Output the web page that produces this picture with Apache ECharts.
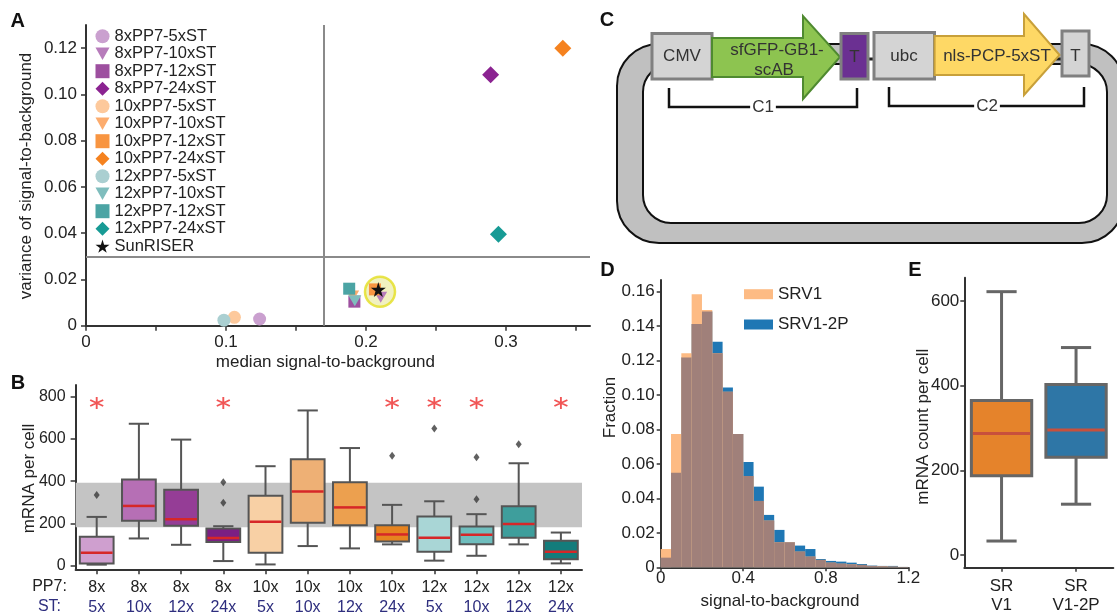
<!DOCTYPE html>
<html>
<head>
<meta charset="utf-8">
<title>SunRISER figure</title>
<script src="https://cdn.jsdelivr.net/npm/echarts@6/dist/echarts.min.js"></script>
<style>
  html, body { margin: 0; padding: 0; background: #fff; }
  #chart { width: 1117px; height: 615px; }
</style>
</head>
<body>
<div id="chart"></div>
<script>
// ---- A: median vs variance of signal-to-background
const aNames = ['8xPP7-5xST', '8xPP7-10xST', '8xPP7-12xST', '8xPP7-24xST',
  '10xPP7-5xST', '10xPP7-10xST', '10xPP7-12xST', '10xPP7-24xST',
  '12xPP7-5xST', '12xPP7-10xST', '12xPP7-12xST', '12xPP7-24xST', 'SunRISER'];
const aMedian = [0.124, 0.2105, 0.1917, 0.289, 0.106, 0.1905, 0.2064, 0.3406, 0.0985, 0.192, 0.188, 0.2946, 0.2088];
const aVariance = [0.0029, 0.0123, 0.0104, 0.1085, 0.0036, 0.0128, 0.0157, 0.120, 0.0024, 0.0108, 0.016, 0.0395, 0.0157];
const aHighlight = [0.21, 0.0147];
const aCutX = 0.165;
const aCutY = 0.0276;
const aXLabels = [0, 0.1, 0.2, 0.3];
const aXTicks = [0, 0.05, 0.1, 0.15, 0.2, 0.25, 0.3, 0.35];
const aYLabels = [0, 0.02, 0.04, 0.06, 0.08, 0.1, 0.12];

// ---- B: mRNA per cell box plots
const bPP7 = ['8x', '8x', '8x', '8x', '10x', '10x', '10x', '10x', '12x', '12x', '12x', '12x'];
const bST = ['5x', '10x', '12x', '24x', '5x', '10x', '12x', '24x', '5x', '10x', '12x', '24x'];
const bMin = [5, 129, 99, 22, 6, 93, 82, 101, 24, 47, 101, 11];
const bQ1 = [11, 213, 189, 112, 61, 203, 192, 115, 66, 102, 132, 30];
const bMed = [61, 283, 220, 131, 208, 351, 276, 148, 132, 146, 197, 66];
const bQ3 = [137, 408, 360, 176, 331, 504, 395, 192, 233, 186, 282, 118];
const bMax = [231, 672, 597, 187, 471, 735, 557, 288, 305, 244, 485, 157];
const bOutliers = [[0, 335], [3, 395], [3, 298], [7, 520], [8, 649], [9, 513], [9, 315], [10, 575]];
const bStarred = [0, 3, 7, 8, 9, 11];
const bStarLevel = 770;
const bBand = [182, 393];
const bYLabels = [0, 200, 400, 600, 800];

// ---- D: histogram of signal-to-background
const dBinWidth = 0.05;
const dSRV1 = [0.0106, 0.0774, 0.1242, 0.1584, 0.1493, 0.1242, 0.1019, 0.0774, 0.0530, 0.0385, 0.0271, 0.0145,
  0.0145, 0.0091, 0.0062, 0.0043, 0.0027, 0.0021, 0.0017, 0.0014, 0.0008, 0.0006, 0.0004, 0.0002];
const dSRV12P = [0.0056, 0.0549, 0.1217, 0.1412, 0.1484, 0.1308, 0.1043, 0.0774, 0.0611, 0.0468, 0.0304, 0.0217,
  0.0145, 0.0126, 0.0106, 0.0048, 0.0037, 0.0033, 0.0027, 0.0019, 0.0010, 0.0008, 0.0008, 0.0002];
const dXLabels = [0, 0.4, 0.8, 1.2];
const dYLabels = [0, 0.02, 0.04, 0.06, 0.08, 0.1, 0.12, 0.14, 0.16];

// ---- E: mRNA count per cell
const eCats = ['SR\nV1', 'SR\nV1-2P'];
const eMin = [33, 120];
const eQ1 = [187, 231];
const eMed = [287, 295];
const eQ3 = [365, 403];
const eMax = [622, 490];
const eYLabels = [0, 200, 400, 600];

const FONT = 'Liberation Sans, Arial, Helvetica, sans-serif';
const TXT = '#222';

// styles for A
const TRI = 'path://M0,0L10,0L5,9Z';
const STAR = 'path://M50,0L61,35L98,35L68,57L79,91L50,70L21,91L32,57L2,35L39,35Z';
const aSymbols = ['circle', TRI, 'rect', 'diamond', 'circle', TRI, 'rect', 'diamond', 'circle', TRI, 'rect', 'diamond', STAR];
const aSizes = [13, [13, 11], 12, 17, 13, [13, 11], 12, 17, 13, [13, 11], 12, 17, 15];
const aColors = ['#caa0cf', '#b77cbb', '#9d4f9f', '#8b2391', '#fdc99c', '#fcac6e', '#f89541', '#f5821f',
  '#aacfd1', '#7fbdbd', '#4ba4a4', '#179b95', '#111'];

const bColors = ['#cf9fcf', '#b66fb5', '#953d96', '#7b1f83', '#f8d0a5', '#eeb075', '#eca04f', '#e6831f',
  '#a9d6d6', '#6fbebe', '#3e9e9c', '#137c7b'];
const eColors = ['#e5832b', '#2e76a6'];

const axisLine = { show: true, onZero: false, lineStyle: { color: '#333', width: 2 } };
const tick = (len, values) => ({ show: true, length: len, customValues: values, lineStyle: { color: '#333', width: 1.5 } });
const label = (values, margin, fmt, size) => ({
  customValues: values, margin: margin, formatter: fmt,
  fontSize: size || 17, color: TXT, fontFamily: FONT
});
const decFmt = v => (v === 0 ? '0' : v.toFixed(2));
const plainFmt = v => String(v);

// box + whiskers + median drawn from the axis scales
function boxItem(colors, o) {
  return function (params, api) {
    const i = api.value(0);
    const cx = api.coord([i, 0])[0];
    const w = api.size([1, 0])[0] * o.box;
    const cap = w * o.cap;
    const y = k => api.coord([i, api.value(k)])[1];
    const yMin = y(1), yQ1 = y(2), yMed = y(3), yQ3 = y(4), yMax = y(5);
    const ln = (x1, y1, x2, y2, stroke, lw) => ({
      type: 'line', shape: { x1: x1, y1: y1, x2: x2, y2: y2 }, style: { stroke: stroke, lineWidth: lw }
    });
    return {
      type: 'group',
      children: [
        ln(cx, yQ1, cx, yMin, o.edge, o.lw),
        ln(cx, yQ3, cx, yMax, o.edge, o.lw),
        ln(cx - cap / 2, yMin, cx + cap / 2, yMin, o.edge, o.lw),
        ln(cx - cap / 2, yMax, cx + cap / 2, yMax, o.edge, o.lw),
        { type: 'rect', shape: { x: cx - w / 2, y: yQ3, width: w, height: yQ1 - yQ3 },
          style: { fill: colors[i], stroke: o.edge, lineWidth: o.lw } },
        ln(cx - w / 2 + o.lw / 2, yMed, cx + w / 2 - o.lw / 2, yMed, o.med, o.medW)
      ]
    };
  };
}

// ---- scatter series for A
const aSeries = aNames.map((name, i) => ({
  type: 'scatter', name: name, xAxisIndex: 0, yAxisIndex: 0,
  symbol: aSymbols[i], symbolSize: aSizes[i],
  itemStyle: { color: aColors[i], opacity: 1 },
  data: [[aMedian[i], aVariance[i]]], z: 3
}));

// ---- diagram C
const T = (x, y, text, extra) => ({
  type: 'text', x: x, y: y, z: 10,
  style: Object.assign({ text: text, fill: '#333', fontSize: 17, fontFamily: FONT, align: 'center', verticalAlign: 'middle' }, extra || {})
});
const grayBox = (x, y, w, h, fill) => ({
  type: 'rect', z: 8, shape: { x: x, y: y, width: w, height: h },
  style: { fill: fill, stroke: '#808080', lineWidth: 3 }
});
const diagram = [
  { type: 'rect', z: 5, shape: { x: 617, y: 44, width: 507, height: 199, r: 42 }, style: { fill: '#c0c0c0', stroke: '#111', lineWidth: 2 } },
  { type: 'rect', z: 6, shape: { x: 643, y: 64, width: 464, height: 159, r: 28 }, style: { fill: '#fff', stroke: '#111', lineWidth: 2 } },
  { type: 'rect', z: 7, shape: { x: 866, y: 30, width: 9, height: 50 }, style: { fill: '#fff' } },
  { type: 'line', z: 7, shape: { x1: 866, y1: 59, x2: 876, y2: 59 }, style: { stroke: '#222', lineWidth: 3 } },
  { type: 'line', z: 7, shape: { x1: 1055, y1: 59, x2: 1064, y2: 59 }, style: { stroke: '#222', lineWidth: 3 } },
  grayBox(652, 33.5, 60, 45.5, '#d4d4d4'),
  T(682, 56, 'CMV'),
  { type: 'polygon', z: 8, shape: { points: [[712, 38], [803, 38], [803, 16], [840, 57], [803, 99], [803, 77], [712, 77]] },
    style: { fill: '#8dc450', stroke: '#4f8a30', lineWidth: 2 } },
  T(777, 50, 'sfGFP-GB1-'),
  T(774, 70, 'scAB'),
  grayBox(841, 33.5, 27, 45.5, '#6b3092'),
  T(854.5, 57, 'T'),
  grayBox(874, 32.5, 60.5, 46.5, '#d4d4d4'),
  T(904, 56, 'ubc'),
  { type: 'polygon', z: 8, shape: { points: [[934.6, 36], [1024, 36], [1024, 14], [1059.6, 55], [1024, 95], [1024, 75], [934.6, 75]] },
    style: { fill: '#fed865', stroke: '#c8a03a', lineWidth: 2 } },
  T(997, 56, 'nls-PCP-5xST'),
  grayBox(1062, 31, 27, 45, '#d4d4d4'),
  T(1075.5, 56, 'T'),
  { type: 'polyline', z: 8, shape: { points: [[669, 88], [669, 107], [857, 107], [857, 88]] }, style: { stroke: '#111', lineWidth: 2.5, fill: null } },
  T(763, 107, 'C1', { backgroundColor: '#fff', padding: [0, 2] }),
  { type: 'polyline', z: 8, shape: { points: [[889, 87], [889, 106], [1084, 106], [1084, 87]] }, style: { stroke: '#111', lineWidth: 2.5, fill: null } },
  T(987, 106, 'C2', { backgroundColor: '#fff', padding: [0, 2] })
];

const letter = (x, y, s) => T(x, y, s, { fontSize: 20, fontWeight: 'bold', fill: '#111' });
const vTitle = (x, y, s) => Object.assign(T(x, y, s, { fill: TXT }), { rotation: Math.PI / 2 });

const texts = [
  letter(17.6, 21.7, 'A'), letter(18, 383.3, 'B'), letter(607, 20, 'C'), letter(607.5, 270.5, 'D'), letter(915, 270, 'E'),
  vTitle(26, 176, 'variance of signal-to-background'),
  T(325.4, 362, 'median signal-to-background', { fill: TXT }),
  vTitle(29.5, 478.5, 'mRNA per cell'),
  T(49.5, 586.7, 'PP7:', { fill: TXT, fontSize: 16 }),
  T(49.5, 607, 'ST:', { fill: '#2e2e7e', fontSize: 16 }),
  vTitle(610.7, 407.5, 'Fraction'),
  T(780, 601.7, 'signal-to-background', { fill: TXT }),
  vTitle(923.3, 426.7, 'mRNA count per cell')
];

const option = {
  animation: false,
  backgroundColor: '#fff',
  textStyle: { fontFamily: FONT },
  grid: [
    { left: 86, top: 25, width: 504, height: 300.7, outerBoundsMode: 'none' },
    { left: 75.6, top: 385.1, width: 506.4, height: 184.2, outerBoundsMode: 'none' },
    { left: 660.7, top: 280, width: 247.6, height: 287.3, outerBoundsMode: 'none' },
    { left: 964.3, top: 277.7, width: 149, height: 290, outerBoundsMode: 'none' }
  ],
  legend: [
    {
      orient: 'vertical', left: 95.5, top: 27.7, padding: 0,
      itemWidth: 14, itemHeight: 14, itemGap: 0.5, selectedMode: false,
      data: aNames,
      textStyle: { fontSize: 16.5, color: TXT, fontFamily: FONT, lineHeight: 14 }
    },
    {
      orient: 'vertical', left: 744, top: 285.7, padding: 0,
      itemWidth: 29, itemHeight: 10, itemGap: 13.3, selectedMode: false, icon: 'rect',
      data: ['SRV1', 'SRV1-2P'],
      textStyle: { fontSize: 17, color: TXT, fontFamily: FONT, lineHeight: 10 }
    }
  ],
  xAxis: [
    { gridIndex: 0, type: 'value', min: 0, max: 0.36, axisLine: axisLine, splitLine: { show: false },
      axisTick: tick(5, aXTicks), axisLabel: label(aXLabels, 8, plainFmt) },
    { gridIndex: 1, type: 'category', data: bPP7.map((p, i) => p + '/' + bST[i]), boundaryGap: true,
      axisLine: axisLine, splitLine: { show: false },
      axisTick: { show: true, alignWithLabel: true, length: 5, lineStyle: { color: '#333', width: 1.5 } },
      axisLabel: {
        interval: 0, margin: 8,
        formatter: (v, i) => '{p|' + bPP7[i] + '}\n{s|' + bST[i] + '}',
        rich: {
          p: { color: TXT, fontSize: 16, lineHeight: 20, fontFamily: FONT },
          s: { color: '#2e2e7e', fontSize: 16, lineHeight: 20, fontFamily: FONT }
        }
      } },
    { gridIndex: 2, type: 'value', min: 0, max: 1.2, axisLine: axisLine, splitLine: { show: false },
      axisTick: tick(4, dXLabels), axisLabel: label(dXLabels, 3, plainFmt) },
    { gridIndex: 3, type: 'category', data: eCats, boundaryGap: true, axisLine: axisLine, splitLine: { show: false },
      axisTick: { show: true, alignWithLabel: true, length: 4, lineStyle: { color: '#333', width: 1.5 } },
      axisLabel: { interval: 0, margin: 9, fontSize: 17, lineHeight: 19, color: TXT, fontFamily: FONT } }
  ],
  yAxis: [
    { gridIndex: 0, type: 'value', min: 0, max: 0.13, axisLine: axisLine, splitLine: { show: false },
      axisTick: tick(5, aYLabels), axisLabel: label(aYLabels, 9, decFmt) },
    { gridIndex: 1, type: 'value', min: -17, max: 855, axisLine: axisLine, splitLine: { show: false },
      axisTick: tick(5, bYLabels), axisLabel: label(bYLabels, 10, plainFmt, 16) },
    { gridIndex: 2, type: 'value', min: 0, max: 0.1667, axisLine: axisLine, splitLine: { show: false },
      axisTick: tick(4, dYLabels), axisLabel: label(dYLabels, 6, decFmt) },
    { gridIndex: 3, type: 'value', min: -30, max: 655, axisLine: axisLine, splitLine: { show: false },
      axisTick: tick(4, eYLabels), axisLabel: label(eYLabels, 5, plainFmt) }
  ],
  graphic: diagram.concat(texts),
  series: [
    // A: highlight ring round SunRISER, with the two cut-off lines
    {
      type: 'scatter', name: 'highlight', xAxisIndex: 0, yAxisIndex: 0, z: 2, silent: true,
      symbol: 'circle', symbolSize: 30,
      itemStyle: { color: 'rgba(236,236,168,0.9)', borderColor: '#e4df22', borderWidth: 2.5 },
      data: [aHighlight],
      markLine: {
        silent: true, symbol: ['none', 'none'], label: { show: false },
        lineStyle: { color: '#8a8a8a', width: 2, type: 'solid' },
        data: [{ xAxis: aCutX }, { yAxis: aCutY }]
      }
    },
    ...aSeries,
    // B: gray reference band
    {
      type: 'custom', name: 'band', xAxisIndex: 1, yAxisIndex: 1, z: 1, silent: true,
      data: [[0, bBand[0], bBand[1]]], encode: { x: 0, y: [1, 2] },
      renderItem: (params, api) => {
        const cs = params.coordSys;
        const top = api.coord([0, api.value(2)])[1];
        const bottom = api.coord([0, api.value(1)])[1];
        return { type: 'rect', shape: { x: cs.x, y: top, width: cs.width, height: bottom - top }, style: { fill: '#c4c4c4' } };
      }
    },
    {
      type: 'custom', name: 'boxesB', xAxisIndex: 1, yAxisIndex: 1, z: 3,
      data: bMin.map((v, i) => [i, bMin[i], bQ1[i], bMed[i], bQ3[i], bMax[i]]),
      encode: { x: 0, y: [1, 5] },
      renderItem: boxItem(bColors, { box: 0.8, cap: 0.6, edge: '#555', lw: 2, med: '#d62728', medW: 2.5 })
    },
    {
      type: 'scatter', name: 'outliers', xAxisIndex: 1, yAxisIndex: 1, z: 4,
      symbol: 'diamond', symbolSize: [6, 8], itemStyle: { color: '#3a3a3a' },
      data: bOutliers
    },
    {
      type: 'scatter', name: 'significant', xAxisIndex: 1, yAxisIndex: 1, z: 4,
      symbol: 'path://M0,-10L0,10M-8.66,-5L8.66,5M-8.66,5L8.66,-5', symbolSize: [13, 12],
      itemStyle: { color: 'rgba(0,0,0,0)', borderColor: '#ee2a2a', borderWidth: 1.8 },
      data: bStarred.map(i => [i, bStarLevel])
    },
    // D: histograms
    {
      type: 'custom', name: 'SRV1-2P', xAxisIndex: 2, yAxisIndex: 2, z: 2,
      itemStyle: { color: '#1f77b4' },
      data: dSRV12P.map((v, i) => [i * dBinWidth, (i + 1) * dBinWidth, v]),
      encode: { x: [0, 1], y: 2 },
      renderItem: (params, api) => {
        const a = api.coord([api.value(0), api.value(2)]);
        const b = api.coord([api.value(1), 0]);
        return { type: 'rect', shape: { x: a[0], y: a[1], width: b[0] - a[0], height: b[1] - a[1] }, style: { fill: '#1f77b4' } };
      }
    },
    {
      type: 'custom', name: 'SRV1', xAxisIndex: 2, yAxisIndex: 2, z: 3,
      itemStyle: { color: '#fdbb84' },
      data: dSRV1.map((v, i) => [i * dBinWidth, (i + 1) * dBinWidth, v, dSRV12P[i]]),
      encode: { x: [0, 1], y: 2 },
      renderItem: (params, api) => {
        const a = api.coord([api.value(0), api.value(2)]);
        const b = api.coord([api.value(1), 0]);
        const m = api.coord([api.value(0), Math.min(api.value(2), api.value(3))]);
        return {
          type: 'group',
          children: [
            { type: 'rect', shape: { x: a[0], y: a[1], width: b[0] - a[0], height: b[1] - a[1] }, style: { fill: '#fdbb84' } },
            { type: 'rect', shape: { x: a[0], y: m[1], width: b[0] - a[0], height: b[1] - m[1] }, style: { fill: '#a0807a' } }
          ]
        };
      }
    },
    // E: two box plots
    {
      type: 'custom', name: 'boxesE', xAxisIndex: 3, yAxisIndex: 3, z: 3,
      data: eMin.map((v, i) => [i, eMin[i], eQ1[i], eMed[i], eQ3[i], eMax[i]]),
      encode: { x: 0, y: [1, 5] },
      renderItem: boxItem(eColors, { box: 0.81, cap: 0.5, edge: '#666', lw: 3, med: '#c8503c', medW: 3 })
    }
  ]
};

const chart = echarts.init(document.getElementById('chart'));
chart.setOption(option);
window.addEventListener('resize', () => chart.resize());
</script>
</body>
</html>
